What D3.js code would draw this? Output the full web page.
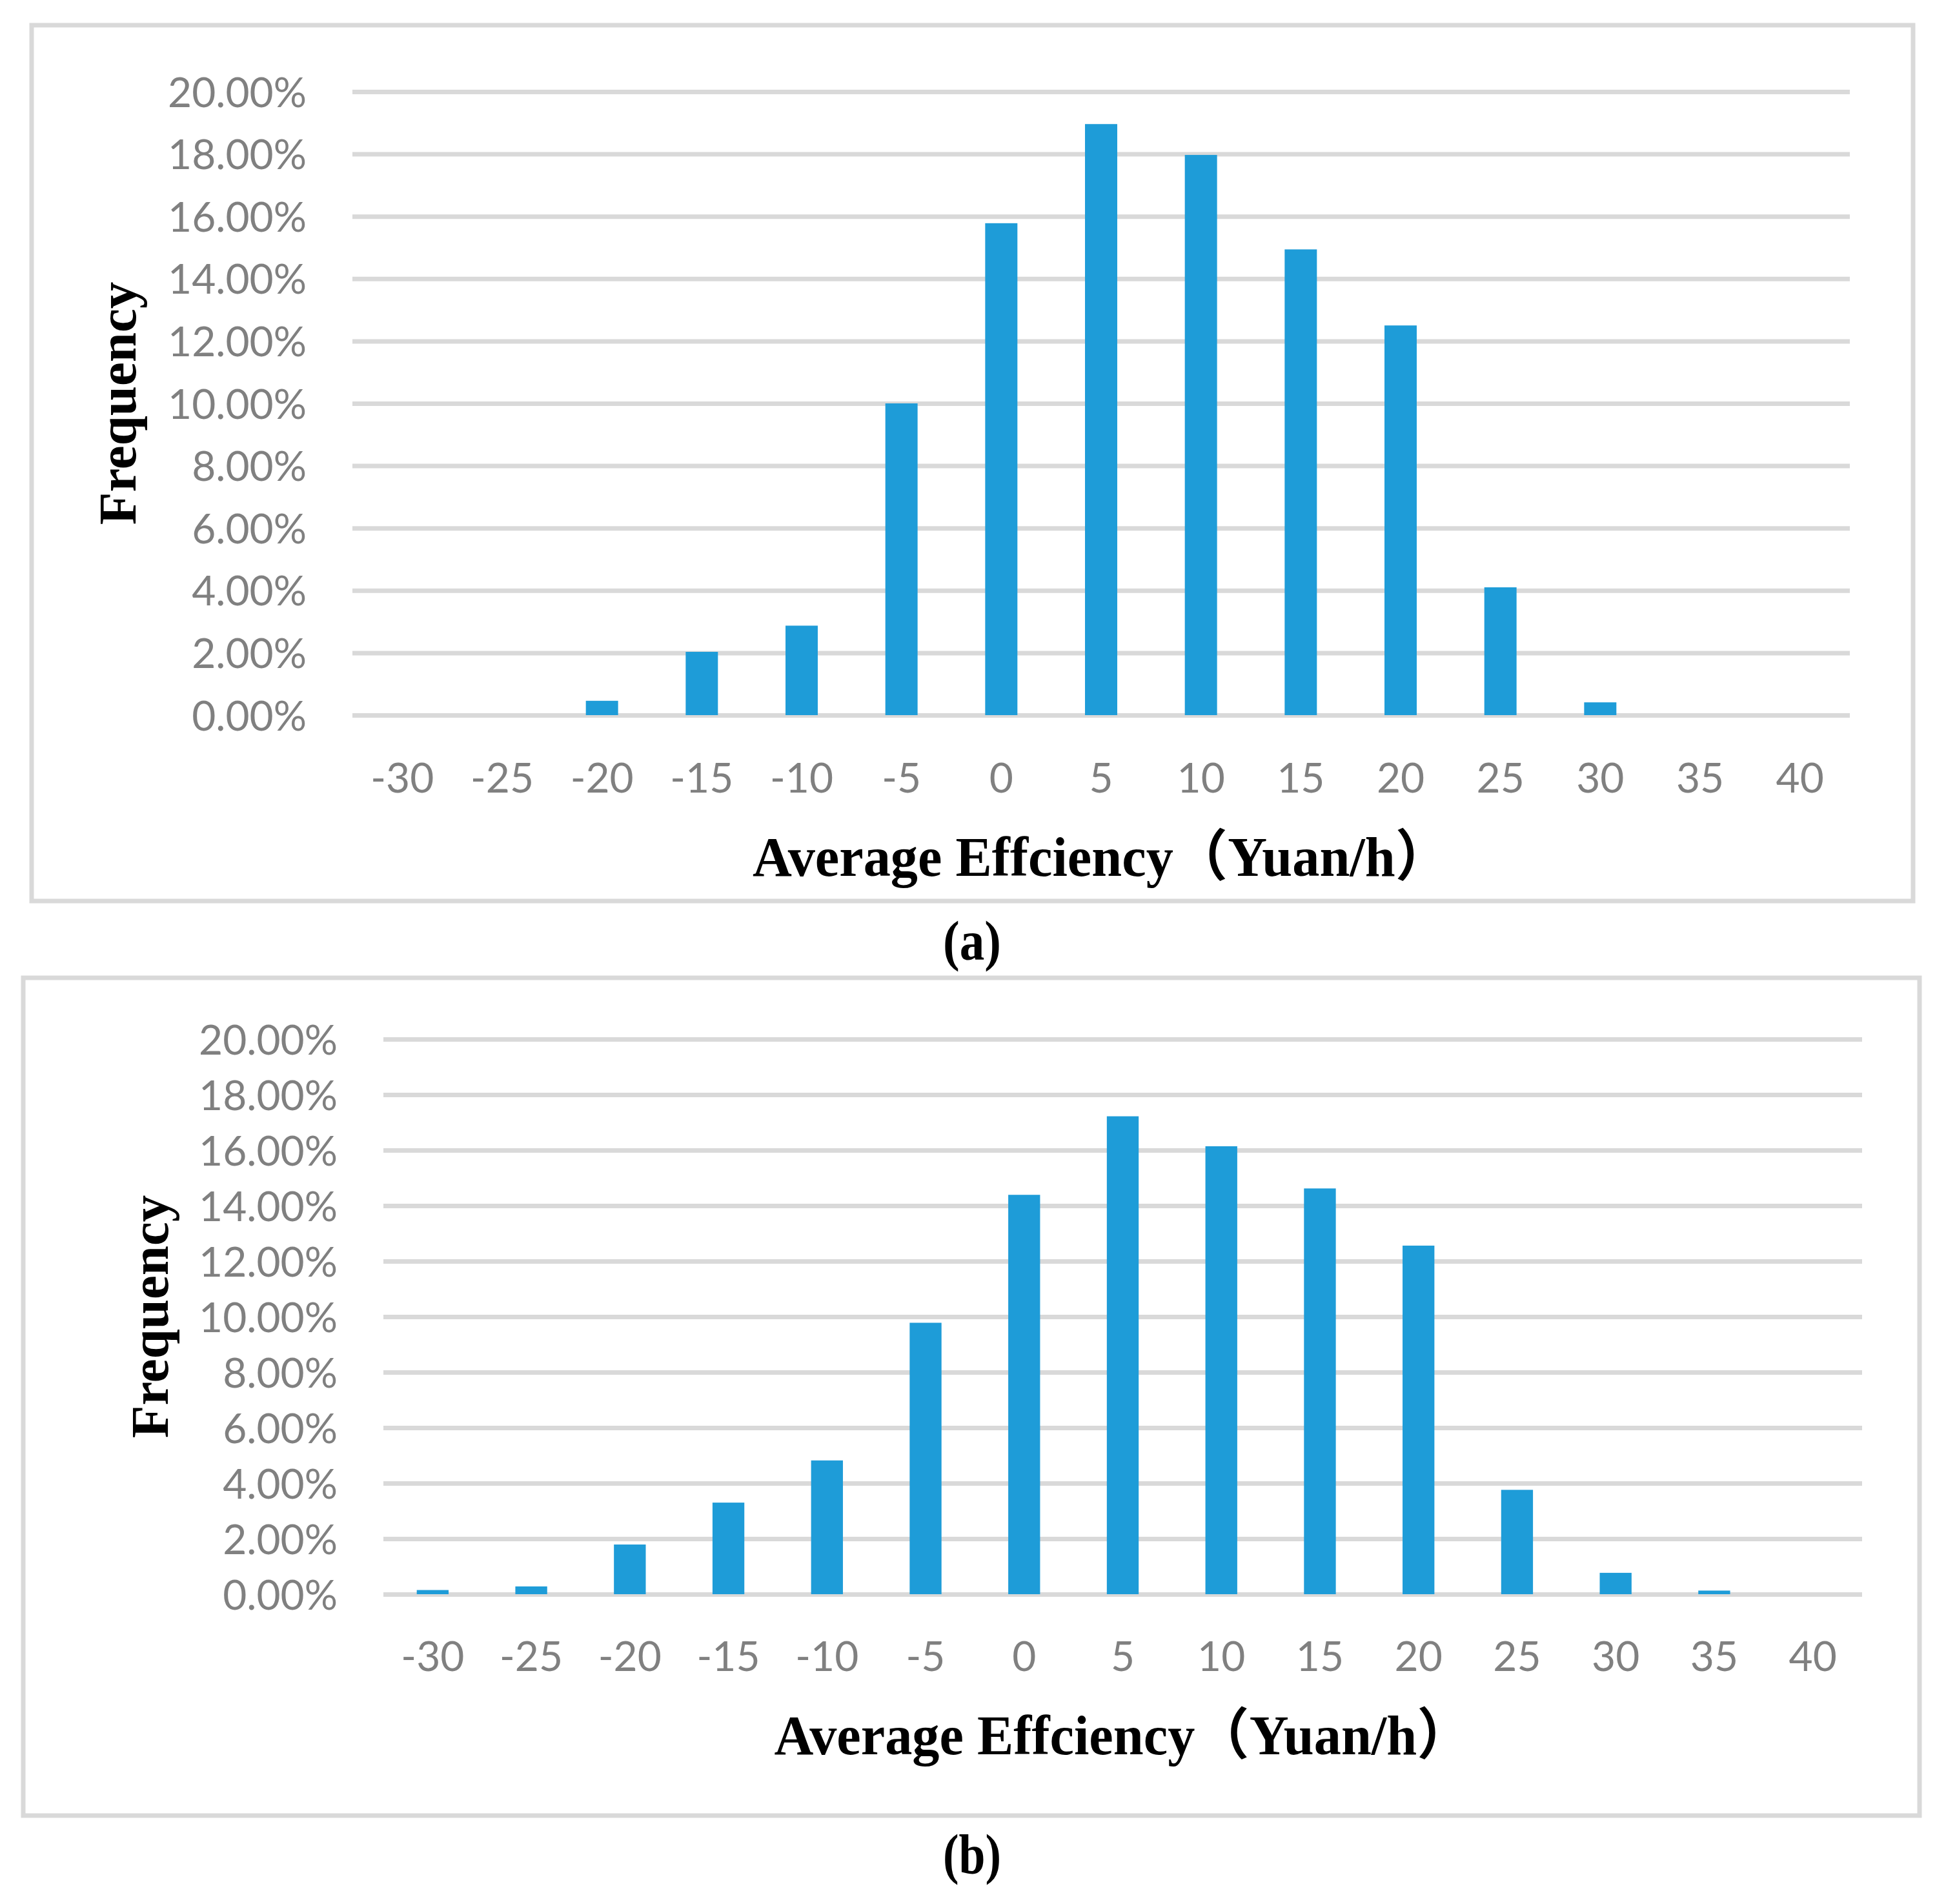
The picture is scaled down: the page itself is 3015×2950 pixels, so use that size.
<!DOCTYPE html>
<html>
<head>
<meta charset="utf-8">
<script src="https://cdn.jsdelivr.net/npm/d3@7"></script>
<style>
    body { margin: 0; background: #fff; }
    svg { display: block; }
</style>
</head>
<body>
<svg id="chart" width="3015" height="2950"></svg>
<script>
(function () {
    'use strict';

    // bins of average efficiency (Yuan/h)
    var categories = ['-30', '-25', '-20', '-15', '-10', '-5', '0', '5', '10', '15', '20', '25', '30', '35', '40'];

    // frequency in percent
    var freqA = [0, 0, 0.46, 2.03, 2.87, 10.0, 15.78, 18.96, 17.97, 14.94, 12.5, 4.10, 0.41, 0, 0];
    var freqB = [0.15, 0.28, 1.79, 3.3, 4.82, 9.78, 14.39, 17.22, 16.14, 14.62, 12.56, 3.76, 0.77, 0.13, 0];

    var yTicks = [0, 2, 4, 6, 8, 10, 12, 14, 16, 18, 20];

    var xTitle = 'Average Effciency\uFF08Yuan/h\uFF09';
    var yTitle = 'Frequency';

    var svg = d3.select('#chart');

    var GRID = '#d9d9d9',
        BAR = '#1e9cd8',
        TICK = '#808080',
        SERIF = '"Liberation Serif", "Times New Roman", "Noto Sans CJK SC", serif',
        SANS = 'Lato, "Open Sans", sans-serif';

    drawPanel({
        box: {x0: 49, y0: 39, x1: 2964, y1: 1396},
        plot: {x0: 546, x1: 2866, yTop: 142, yBase: 1108},
        yTitleX: 210,
        xTitleY: 1357,
        tickY: 1228,
        captionY: 1487
    }, freqA, '(a)');

    drawPanel({
        box: {x0: 36, y0: 1515, x1: 2974, y1: 2813},
        plot: {x0: 594, x1: 2885, yTop: 1610, yBase: 2470},
        yTitleX: 260,
        xTitleY: 2718,
        tickY: 2589,
        captionY: 2902
    }, freqB, '(b)');

    function drawPanel(cfg, values, caption) {
        var p = cfg.plot;

        // outer frame
        svg.append('rect')
            .attr('x', cfg.box.x0)
            .attr('y', cfg.box.y0)
            .attr('width', cfg.box.x1 - cfg.box.x0)
            .attr('height', cfg.box.y1 - cfg.box.y0)
            .attr('fill', 'none')
            .attr('stroke', GRID)
            .attr('stroke-width', 7);

        var x = d3.scaleBand()
            .domain(categories)
            .range([p.x0, p.x1])
            .paddingInner(0.677)
            .paddingOuter(0.3385);

        var y = d3.scaleLinear()
            .domain([0, 20])
            .range([p.yBase, p.yTop]);

        var g = svg.append('g');

        // y axis: gridlines + percent labels
        var yAxis = g.append('g')
            .attr('transform', 'translate(' + p.x0 + ',0)')
            .call(d3.axisLeft(y)
                .tickValues(yTicks)
                .tickSize(-(p.x1 - p.x0))
                .tickPadding(71)
                .tickFormat(function (d) { return d.toFixed(2) + '%'; }));
        yAxis.select('.domain').remove();
        yAxis.selectAll('line')
            .attr('stroke', GRID)
            .attr('stroke-width', 7);
        yAxis.selectAll('text')
            .attr('fill', TICK)
            .attr('font-family', SANS)
            .attr('font-size', 64)
            .attr('dy', '0.36em');

        // bars (drawn from the middle of the zero line)
        g.append('g').selectAll('rect')
            .data(values)
            .enter().append('rect')
            .attr('x', function (d, i) { return x(categories[i]); })
            .attr('width', x.bandwidth())
            .attr('y', function (d) { return y(d); })
            .attr('height', function (d) { return y(0) - y(d); })
            .attr('fill', BAR);

        // x axis labels
        var xAxis = g.append('g')
            .attr('transform', 'translate(0,' + cfg.tickY + ')')
            .call(d3.axisBottom(x).tickSize(0).tickPadding(0));
        xAxis.select('.domain').remove();
        xAxis.selectAll('text')
            .attr('fill', TICK)
            .attr('font-family', SANS)
            .attr('font-size', 64)
            .attr('dy', 0);

        var midX = (p.x0 + p.x1) / 2;

        // axis titles
        svg.append('text')
            .attr('transform', 'translate(' + cfg.yTitleX + ',' + (p.yTop + p.yBase) / 2 + ') rotate(-90)')
            .attr('text-anchor', 'middle')
            .attr('font-family', SERIF)
            .attr('font-weight', 'bold')
            .attr('font-size', 83)
            .attr('fill', '#000')
            .text(yTitle);

        svg.append('text')
            .attr('x', midX)
            .attr('y', cfg.xTitleY)
            .attr('text-anchor', 'middle')
            .attr('font-family', SERIF)
            .attr('font-weight', 'bold')
            .attr('font-size', 86)
            .attr('fill', '#000')
            .attr('textLength', 1080)
            .attr('lengthAdjust', 'spacingAndGlyphs')
            .text(xTitle);

        // panel caption
        svg.append('text')
            .attr('x', 1506)
            .attr('y', cfg.captionY)
            .attr('text-anchor', 'middle')
            .attr('font-family', SERIF)
            .attr('font-weight', 'bold')
            .attr('font-size', 86)
            .attr('fill', '#000')
            .attr('textLength', 90)
            .attr('lengthAdjust', 'spacingAndGlyphs')
            .text(caption);
    }
})();
</script>
</body>
</html>
